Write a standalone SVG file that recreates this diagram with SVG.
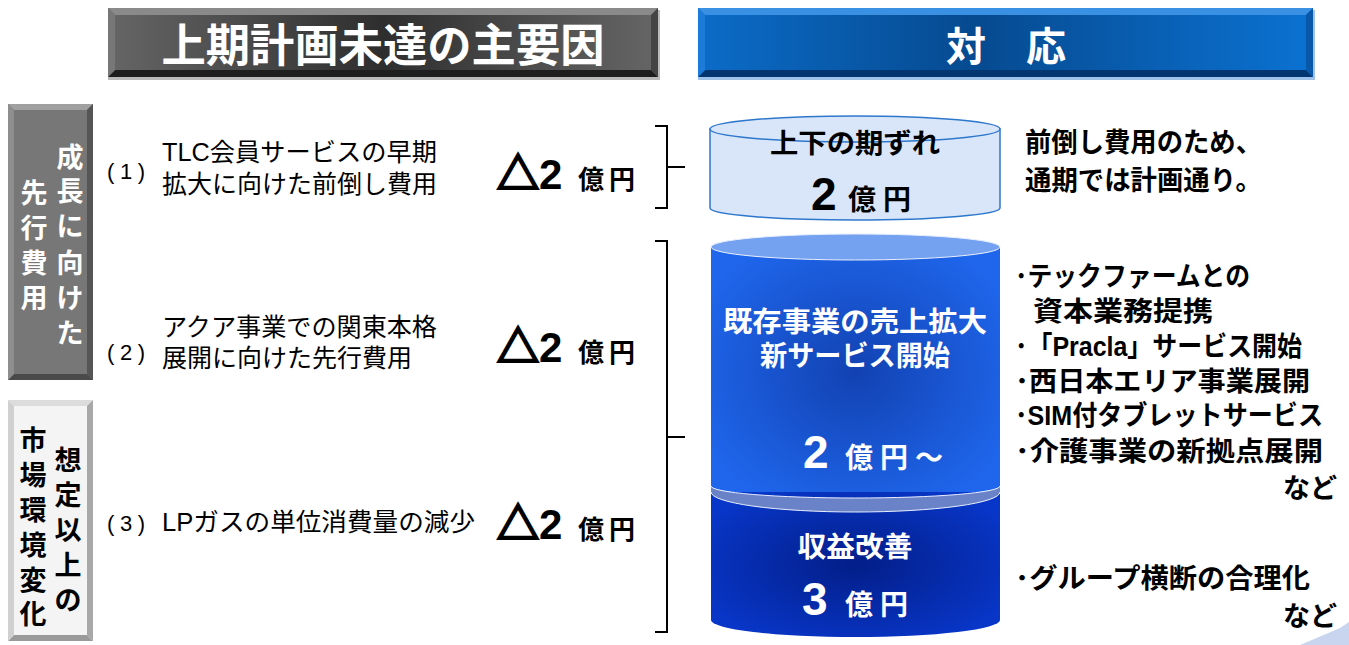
<svg xmlns="http://www.w3.org/2000/svg" width="1349" height="645" viewBox="0 0 1349 645">
<defs>
<linearGradient id="gHdr1" x1="0" y1="0" x2="1" y2="0">
<stop offset="0" stop-color="#666"/><stop offset="0.5" stop-color="#2e2e2e"/><stop offset="1" stop-color="#666"/>
</linearGradient>
<linearGradient id="gHdr2" x1="0" y1="0" x2="1" y2="0">
<stop offset="0" stop-color="#0b6cc8"/><stop offset="0.45" stop-color="#064a90"/><stop offset="1" stop-color="#0b72d2"/>
</linearGradient>
<radialGradient id="gCyl2" cx="0.5" cy="0.5" r="0.6">
<stop offset="0" stop-color="#1242b2"/><stop offset="1" stop-color="#1f66ec"/>
</radialGradient>
<radialGradient id="gCyl3" cx="0.5" cy="0.5" r="0.6">
<stop offset="0" stop-color="#031e88"/><stop offset="1" stop-color="#0836c8"/>
</radialGradient>
<style>
.jp{font-family:"Liberation Sans","Noto Sans CJK JP",sans-serif}
.b{font-weight:bold}
.w{fill:#fff}
.k{fill:#000}
.tri{stroke:#000;stroke-width:2.5}
.brace{fill:none;stroke:#000;stroke-width:2}
</style>
</defs>

<!-- Header 1 -->
<g id="header-causes">
<rect x="108" y="10" width="552" height="70" fill="#bbb"/>
<rect x="108" y="8" width="550" height="69" fill="url(#gHdr1)"/>
<polygon points="108,8 658,8 651,15 115,15" fill="#8a8a8a"/>
<polygon points="108,77 658,77 651,70 115,70" fill="#1e1e1e"/>
<polygon points="108,8 115,15 115,70 108,77" fill="#777"/>
<polygon points="658,8 651,15 651,70 658,77" fill="#444"/>
<text class="jp b w" x="383" y="62" font-size="45" text-anchor="middle" textLength="443" lengthAdjust="spacingAndGlyphs">上期計画未達の主要因</text>
</g>

<!-- Header 2 -->
<g id="header-response">
<rect x="698" y="10" width="617" height="70" fill="#9ec2ea"/>
<rect x="698" y="8" width="615" height="69" fill="url(#gHdr2)"/>
<polygon points="698,8 1313,8 1306,15 705,15" fill="#3a90e2"/>
<polygon points="698,77 1313,77 1306,70 705,70" fill="#033670"/>
<polygon points="698,8 705,15 705,70 698,77" fill="#1c7ad8"/>
<polygon points="1313,8 1306,15 1306,70 1313,77" fill="#0857a8"/>
<text class="jp b w" x="1006" y="61" font-size="40" text-anchor="middle" xml:space="preserve">対　応</text>
</g>

<!-- Left category box 1 -->
<g id="cat-growth">
<rect x="8" y="104" width="85" height="276" fill="#777"/>
<polygon points="8,104 93,104 87,110 14,110" fill="#a0a0a0"/>
<polygon points="8,380 93,380 87,374 14,374" fill="#4a4a4a"/>
<polygon points="8,104 14,110 14,374 8,380" fill="#8e8e8e"/>
<polygon points="93,104 87,110 87,374 93,380" fill="#555"/>
<text class="jp b w" font-size="27" text-anchor="middle">
<tspan x="70" y="167">成</tspan><tspan x="70" y="201">長</tspan><tspan x="70" y="236">に</tspan><tspan x="70" y="273">向</tspan><tspan x="70" y="308">け</tspan><tspan x="70" y="343">た</tspan>
</text>
<text class="jp b w" font-size="27" text-anchor="middle">
<tspan x="34" y="203">先</tspan><tspan x="34" y="238">行</tspan><tspan x="34" y="273">費</tspan><tspan x="34" y="308">用</tspan>
</text>
</g>

<!-- Left category box 2 -->
<g id="cat-market">
<rect x="8" y="400" width="85" height="241" fill="#f4f4f4"/>
<polygon points="8,400 93,400 87,406 14,406" fill="#dcdcdc"/>
<polygon points="8,641 93,641 87,635 14,635" fill="#9a9a9a"/>
<polygon points="8,400 14,406 14,635 8,641" fill="#d0d0d0"/>
<polygon points="93,400 87,406 87,635 93,641" fill="#a8a8a8"/>
<text class="jp b k" font-size="27" text-anchor="middle">
<tspan x="33" y="450">市</tspan><tspan x="33" y="485">場</tspan><tspan x="33" y="520">環</tspan><tspan x="33" y="555">境</tspan><tspan x="33" y="590">変</tspan><tspan x="33" y="624">化</tspan>
</text>
<text class="jp b k" font-size="27" text-anchor="middle">
<tspan x="68" y="470">想</tspan><tspan x="68" y="505">定</tspan><tspan x="68" y="540">以</tspan><tspan x="68" y="575">上</tspan><tspan x="68" y="610">の</tspan>
</text>
</g>

<!-- Items -->
<g id="item1">
<text class="jp k" x="107" y="179" font-size="22" textLength="38">(1)</text>
<text class="jp k" x="162" y="161" font-size="25" textLength="275" lengthAdjust="spacingAndGlyphs">TLC会員サービスの早期</text>
<text class="jp k" x="162" y="193" font-size="25" textLength="275" lengthAdjust="spacingAndGlyphs">拡大に向けた前倒し費用</text>
<text class="jp b k" x="497" y="189" font-size="42"><tspan class="tri">△</tspan>2</text>
<text class="jp b k" x="578" y="189" font-size="26" textLength="57">億円</text>
</g>
<g id="item2">
<text class="jp k" x="107" y="360" font-size="22" textLength="38">(2)</text>
<text class="jp k" x="162" y="336" font-size="25" textLength="275" lengthAdjust="spacingAndGlyphs">アクア事業での関東本格</text>
<text class="jp k" x="162" y="367" font-size="25" textLength="250" lengthAdjust="spacingAndGlyphs">展開に向けた先行費用</text>
<text class="jp b k" x="497" y="362" font-size="42"><tspan class="tri">△</tspan>2</text>
<text class="jp b k" x="578" y="362" font-size="26" textLength="57">億円</text>
</g>
<g id="item3">
<text class="jp k" x="107" y="531" font-size="22" textLength="38">(3)</text>
<text class="jp k" x="162" y="531" font-size="25" textLength="313" lengthAdjust="spacingAndGlyphs">LPガスの単位消費量の減少</text>
<text class="jp b k" x="497" y="539" font-size="42"><tspan class="tri">△</tspan>2</text>
<text class="jp b k" x="578" y="539" font-size="26" textLength="57">億円</text>
</g>

<!-- Connectors (braces) -->
<g id="connectors">
<path class="brace" d="M655,126 L667,126 L667,167 L685,167 M667,167 L667,208 L655,208"/>
<path class="brace" d="M655,241 L667,241 L667,437 L685,437 M667,437 L667,632 L655,632"/>
</g>

<!-- Cylinder 1 -->
<g id="cyl-timing">
<path d="M710,129 L710,208 A145,12 0 0 0 1000,208 L1000,129 Z" fill="#d9e5f9" stroke="#2e78cc" stroke-width="1.5"/>
<ellipse cx="855" cy="129" rx="145" ry="13" fill="#d9e5f9" stroke="#2e78cc" stroke-width="1.5"/>
<text class="jp b k" x="855" y="153" font-size="27" text-anchor="middle" textLength="170" lengthAdjust="spacingAndGlyphs">上下の期ずれ</text>
<text class="jp b k" x="811" y="210" font-size="46">2</text>
<text class="jp b k" x="848" y="210" font-size="28" textLength="63">億円</text>
</g>

<!-- Cylinder 2 -->
<g id="cyl-growth">
<path d="M711,247 L711,486 A144.5,12 0 0 0 1000,486 L1000,247 Z" fill="url(#gCyl2)"/>
<ellipse cx="855.5" cy="247" rx="144.5" ry="13" fill="#74a2f0" stroke="#e8efff" stroke-width="1"/>
<text class="jp b w" x="855" y="332" font-size="28" text-anchor="middle" textLength="264" lengthAdjust="spacingAndGlyphs">既存事業の売上拡大</text>
<text class="jp b w" x="855" y="366" font-size="28" text-anchor="middle" textLength="190" lengthAdjust="spacingAndGlyphs">新サービス開始</text>
<text class="jp b w" x="803" y="468" font-size="46">2</text>
<text class="jp b w" x="845" y="468" font-size="28" textLength="98">億円～</text>
</g>

<!-- Cylinder 3 -->
<g id="cyl-profit">
<path d="M711,492 L711,620 A144.5,17 0 0 0 1000,620 L1000,492 Z" fill="url(#gCyl3)"/>
<path d="M711,486 A144.5,12 0 0 0 1000,486 L1000,492 A144.5,20 0 0 1 711,492 Z" fill="#6a82c8"/>
<path d="M711,486 A144.5,12 0 0 0 1000,486" fill="none" stroke="#e8efff" stroke-width="1"/>
<path d="M711,492 A144.5,20 0 0 0 1000,492" fill="none" stroke="#e8efff" stroke-width="1"/>
<text class="jp b w" x="855" y="557" font-size="28" text-anchor="middle" textLength="115" lengthAdjust="spacingAndGlyphs">収益改善</text>
<text class="jp b w" x="802" y="615" font-size="46">3</text>
<text class="jp b w" x="845" y="615" font-size="28" textLength="63">億円</text>
</g>

<!-- Right notes -->
<g id="note-timing">
<text class="jp b k" x="1025" y="152" font-size="27" textLength="237" lengthAdjust="spacingAndGlyphs">前倒し費用のため、</text>
<text class="jp b k" x="1025" y="190" font-size="27" textLength="237" lengthAdjust="spacingAndGlyphs">通期では計画通り。</text>
</g>
<g id="note-growth" class="jp b k" font-size="27">
<text x="1015" y="286" textLength="235" lengthAdjust="spacingAndGlyphs">･テックファームとの</text>
<text x="1033" y="321" textLength="180" lengthAdjust="spacingAndGlyphs">資本業務提携</text>
<text x="1015" y="356" textLength="287" lengthAdjust="spacingAndGlyphs">･「Pracla」サービス開始</text>
<text x="1015" y="391" textLength="295" lengthAdjust="spacingAndGlyphs">･西日本エリア事業展開</text>
<text x="1015" y="425" textLength="308" lengthAdjust="spacingAndGlyphs">･SIM付タブレットサービス</text>
<text x="1015" y="461" textLength="308" lengthAdjust="spacingAndGlyphs">･介護事業の新拠点展開</text>
<text x="1337" y="498" text-anchor="end">など</text>
</g>
<g id="note-profit" class="jp b k" font-size="27">
<text x="1015" y="588" textLength="295" lengthAdjust="spacingAndGlyphs">･グループ横断の合理化</text>
<text x="1337" y="626" text-anchor="end">など</text>
</g>

<polygon points="1300,645 1340,628 1349,622 1349,645" fill="#c9d5ef"/>
</svg>
